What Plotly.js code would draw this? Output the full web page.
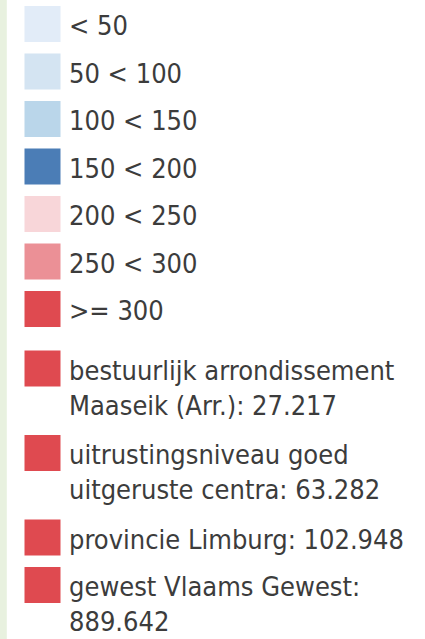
<!DOCTYPE html>
<html><head><meta charset="utf-8">
<script src="https://cdn.plot.ly/plotly-3.0.1.min.js"></script>
<style>html,body{margin:0;padding:0;background:#fff}#c{width:425px;height:639px}</style>
</head><body><div id="c"></div>
<script>
// Legend entries (class breaks) and region values
const classLabels = ["< 50", "50 < 100", "100 < 150", "150 < 200", "200 < 250", "250 < 300", ">= 300"];
const classColors = ["#e2ecf8", "#d4e4f2", "#bad6ea", "#4b7db6", "#f8d6d9", "#eb9096", "#df4a50"];
const regionLabels = [
  "bestuurlijk arrondissement<br>Maaseik (Arr.): 27.217",
  "uitrustingsniveau goed<br>uitgeruste centra: 63.282",
  "provincie Limburg: 102.948",
  "gewest Vlaams Gewest:<br>889.642"
];
const regionColors = ["#df4a50", "#df4a50", "#df4a50", "#df4a50"];

const FONT = "DejaVu Sans Condensed, DejaVu Sans, sans-serif";
const FS = 27;
const ROW = 47.5, LINE = 37, GROUP_GAP = 12, TOP = 24;

const labels = classLabels.concat(regionLabels);
const colors = classColors.concat(regionColors);
const ys = [];
let y = TOP;
labels.forEach((lab, i) => {
  if (i > 0) {
    const prevLines = labels[i - 1].split("<br>").length;
    y += ROW + LINE * (prevLines - 1);
    if (i === classLabels.length) y += GROUP_GAP;
  }
  ys.push(y);
});

const trace = {
  type: "scatter", mode: "markers",
  x: labels.map(() => 42.5), y: ys,
  marker: {symbol: "square", size: 36, color: colors, line: {width: 0}},
  hoverinfo: "skip", showlegend: false
};
const annotations = labels.map((lab, i) => ({
  x: 67, y: ys[i], xref: "x", yref: "y",
  xanchor: "left", yanchor: "top", align: "left",
  yshift: 16,
  text: lab, showarrow: false,
  font: {family: FONT, size: FS, color: "#3c3c3c"}
}));

Plotly.newPlot("c", [trace], {
  width: 425, height: 639,
  margin: {l: 0, r: 0, t: 0, b: 0},
  paper_bgcolor: "#ffffff", plot_bgcolor: "#ffffff",
  xaxis: {range: [0, 425], visible: false, fixedrange: true},
  yaxis: {range: [639, 0], visible: false, fixedrange: true},
  shapes: [{type: "rect", xref: "paper", yref: "paper", x0: 0, x1: 0.016, y0: 0, y1: 1,
            fillcolor: "#e8f1df", line: {width: 0}, layer: "below"}],
  annotations: annotations
}, {staticPlot: true, displayModeBar: false});
</script></body></html>
